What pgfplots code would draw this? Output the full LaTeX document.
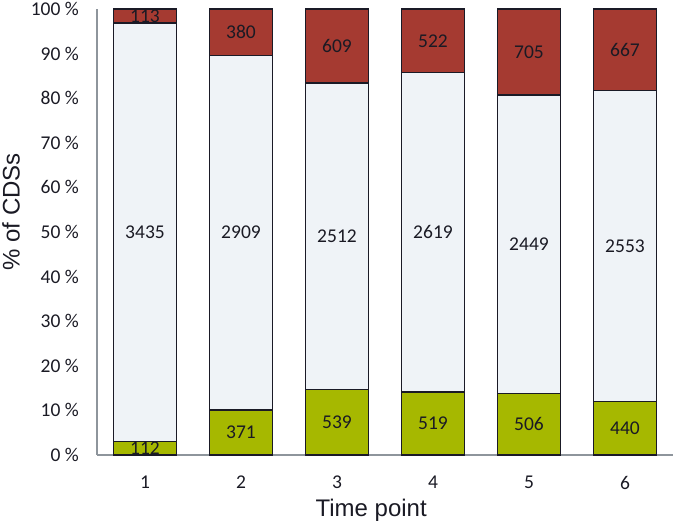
\documentclass[border=0pt]{standalone}
\usepackage{fontspec}
\setmainfont{Carlito}
\newfontfamily\arialfont{Liberation Sans}
\usepackage{pgfplots}
\usepackage{pgfplotstable}
\pgfplotsset{compat=1.18}
\definecolor{cgreen}{HTML}{A6B800}
\definecolor{cmid}{HTML}{EFF3F7}
\definecolor{cred}{HTML}{A53A31}
\definecolor{cedge}{HTML}{1A1A26}
\definecolor{caxis}{HTML}{8E959C}
\definecolor{ctext}{HTML}{1A1A24}
\pgfplotstableread{
x a b c
1 112 3435 113
2 371 2909 380
3 539 2512 609
4 519 2619 522
5 506 2449 705
6 440 2553 667
}\data
\pgfplotsset{common/.style={scale only axis, width=576pt, height=446pt,
  xmin=0.5, xmax=6.5, ymin=0, ymax=100, clip=false}}
\begin{document}
\begin{tikzpicture}
\useasboundingbox (-97pt,-69pt) rectangle (578pt,455pt);
\begin{axis}[common, ybar stacked, bar width=0.66,
  axis x line*=bottom, axis y line*=left,
  axis line style={draw=caxis, line width=1.5pt, -},
  major tick length=0pt,
  xtick={1,2,3,4,5,6}, xticklabels={1,2,3,4,5,6},
  ytick={0,10,20,30,40,50,60,70,80,90,100},
  yticklabels={0 \%,10 \%,20 \%,30 \%,40 \%,50 \%,60 \%,70 \%,80 \%,90 \%,100 \%},
  tick label style={font=\fontsize{19.5}{23}\selectfont, text=ctext, inner sep=0pt},
  yticklabel style={anchor=east, xshift=-18pt},
  xticklabel style={anchor=north, yshift=-21pt},
  xlabel={Time point}, ylabel={\% of CDSs},
  xlabel style={at={(axis description cs:0.476,-0.0987)}, anchor=north, inner sep=0pt,
    font=\arialfont\fontsize{24}{28}\selectfont, text=ctext},
  ylabel style={at={(axis description cs:-0.165,0.545)}, anchor=north, rotate=0, inner sep=0pt,
    font=\arialfont\fontsize{24}{28}\selectfont, text=ctext},
  every axis plot/.append style={draw=cedge, line width=1.5pt}]
\addplot[fill=cgreen] table[x=x, y expr=\thisrow{a}/(\thisrow{a}+\thisrow{b}+\thisrow{c})*100] {\data};
\addplot[fill=cmid] table[x=x, y expr=\thisrow{b}/(\thisrow{a}+\thisrow{b}+\thisrow{c})*100] {\data};
\addplot[fill=cred] table[x=x, y expr=\thisrow{c}/(\thisrow{a}+\thisrow{b}+\thisrow{c})*100] {\data};
\end{axis}
\begin{axis}[common, hide axis,
  every node near coord/.append style={anchor=center, inner sep=0pt,
    font=\fontsize{19.5}{23}\selectfont, text=ctext}]
\addplot[draw=none, nodes near coords, point meta=explicit symbolic]
  table[x=x, y expr=\thisrow{a}/2/(\thisrow{a}+\thisrow{b}+\thisrow{c})*100, meta=a] {\data};
\addplot[draw=none, nodes near coords, point meta=explicit symbolic]
  table[x=x, y expr=(\thisrow{a}+\thisrow{b}/2)/(\thisrow{a}+\thisrow{b}+\thisrow{c})*100, meta=b] {\data};
\addplot[draw=none, nodes near coords, point meta=explicit symbolic]
  table[x=x, y expr=(\thisrow{a}+\thisrow{b}+\thisrow{c}/2)/(\thisrow{a}+\thisrow{b}+\thisrow{c})*100, meta=c] {\data};
\end{axis}
\end{tikzpicture}
\end{document}
